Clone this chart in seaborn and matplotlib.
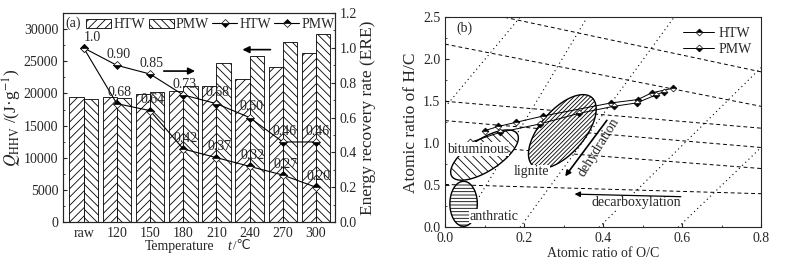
import numpy as np
import pandas as pd
import matplotlib
matplotlib.use('Agg')
import matplotlib.pyplot as plt
from matplotlib.patches import Polygon, Patch
from matplotlib.ticker import FormatStrFormatter
import seaborn as sns

# ---- panel (a) data ----
temps = ['raw', '120', '150', '180', '210', '240', '270', '300']
q_htw = [19450, 19500, 19900, 20450, 21200, 22200, 24100, 26250]
q_pmw = [19150, 19350, 20250, 21200, 24700, 25750, 27950, 29300]
ere_htw = [1.0, 0.90, 0.85, 0.73, 0.68, 0.60, 0.46, 0.46]
ere_pmw = [1.0, 0.68, 0.64, 0.42, 0.37, 0.32, 0.27, 0.20]
ere_htw_lbl = ['1.0', '0.90', '0.85', '0.73', '0.68', '0.60', '0.46', '0.46']
ere_pmw_lbl = ['', '0.68', '0.64', '0.42', '0.37', '0.32', '0.27', '0.20']

# ---- panel (b) data ----
htw_oc = [0.100, 0.135, 0.180, 0.249, 0.420, 0.488, 0.523, 0.577]
htw_hc = [1.15, 1.20, 1.25, 1.325, 1.48, 1.52, 1.60, 1.655]
pmw_oc = [0.063, 0.139, 0.240, 0.338, 0.427, 0.485, 0.534, 0.555]
pmw_hc = [1.01, 1.13, 1.23, 1.355, 1.44, 1.48, 1.575, 1.615]

# guide lines of the van Krevelen diagram (start, end)
dashed_lines = [((0.15, 2.5), (0.8, 1.85)), ((0.0, 2.18), (0.8, 1.44)),
                ((0.0, 1.50), (0.8, 1.18)), ((0.0, 1.27), (0.8, 0.95)),
                ((0.0, 0.99), (0.8, 0.70)), ((0.0, 0.51), (0.8, 0.40))]
dotted_lines = [((0.0, 1.43), (0.19, 2.5)), ((0.04, 0.0), (0.36, 2.5)),
                ((0.19, 0.0), (0.58, 2.5)), ((0.39, 0.0), (0.8, 1.9)),
                ((0.59, 0.0), (0.8, 0.95))]

# coal regions: centre (O/C, H/C), semi axes in px, angle deg, hatch
regions = {'bituminous': ((0.10, 0.86), 39, 16, 33, '\\\\\\\\'),
           'lignite': ((0.297, 1.14), 45, 22, 49, '////////'),
           'anthratic': ((0.047, 0.28), 22.5, 13.7, 90, '-----')}

sns.set_style('ticks')
plt.rcParams['font.family'] = ['Liberation Serif', 'DejaVu Sans', 'Noto Sans CJK SC']
plt.rcParams['mathtext.fontset'] = 'stix'
plt.rcParams['font.size'] = 10
plt.rcParams['hatch.linewidth'] = 0.6

fig = plt.figure(figsize=(7.91, 2.61), dpi=100)
ax = fig.add_axes([0.0797, 0.149, 0.3438, 0.801])
axb = fig.add_axes([0.5626, 0.129, 0.3995, 0.805])

# ---------------- panel (a) ----------------
df = pd.DataFrame({'temp': temps * 2,
                   'q': q_htw + q_pmw,
                   'type': ['HTW'] * len(temps) + ['PMW'] * len(temps)})
sns.barplot(data=df, x='temp', y='q', hue='type', palette=['white', 'white'],
            edgecolor='black', linewidth=0.6, width=0.86, ax=ax, legend=False)
hatches = ['////', '\\\\\\\\']
for cont, h in zip(ax.containers, hatches):
    for p in cont:
        p.set_hatch(h)
ax.set_xlim(-0.62, 7.57)
ax.set_ylim(0, 32500)
ax.set_yticks(range(0, 30001, 5000))
ax.set_yticks(range(0, 32501, 2500), minor=True)
ax.set_xlabel('')
ax.text(0.43, -0.115, 'Temperature', transform=ax.transAxes, ha='center', va='center')
ax.text(0.612, -0.115, 't', transform=ax.transAxes, ha='center', va='center',
        style='italic')
ax.text(0.625, -0.115, '/\u2103', transform=ax.transAxes, ha='left', va='center',
        fontsize=9)
ax.set_ylabel('$Q_{\\mathrm{HHV}}$ /(J\u00b7g$^{-1}$)', labelpad=0, fontsize=12.5)
ax.tick_params(axis='x', length=0)

ax2 = ax.twinx()
xs = np.arange(len(temps))
l1, = ax2.plot(xs, ere_htw, color='black', lw=0.8, marker='D', ms=4,
               fillstyle='bottom', markerfacecolor='black',
               markerfacecoloralt='white', markeredgewidth=0.5)
l2, = ax2.plot(xs, ere_pmw, color='black', lw=0.8, marker='D', ms=4,
               fillstyle='top', markerfacecolor='black',
               markerfacecoloralt='white', markeredgewidth=0.5)
for x, y, t in zip(xs, ere_htw, ere_htw_lbl):
    ax2.annotate(t, (x, y), xytext=(6 if t == '1.0' else 1, 3),
                 textcoords='offset points', ha='center', va='bottom')
for x, y, t in zip(xs, ere_pmw, ere_pmw_lbl):
    if t:
        ax2.annotate(t, (x, y), xytext=(2, 3), textcoords='offset points',
                     ha='center', va='bottom')
ax2.set_ylim(0, 1.2)
ax2.set_yticks(np.arange(0, 1.21, 0.2))
ax2.set_yticks(np.arange(0, 1.21, 0.1), minor=True)
ax2.yaxis.set_major_formatter(FormatStrFormatter('%.1f'))
ax2.set_ylabel('Energy recovery rate (ERE)', labelpad=2, fontsize=12.5)
ax2.annotate('', xy=(4.70, 0.99), xytext=(5.71, 0.99),
             arrowprops=dict(arrowstyle='-|>', color='black', lw=1.2,
                             mutation_scale=10))
ax2.annotate('', xy=(3.44, 0.867), xytext=(2.33, 0.867),
             arrowprops=dict(arrowstyle='-|>', color='black', lw=1.2,
                             mutation_scale=10))

handles = [Patch(facecolor='white', edgecolor='black', hatch='////', lw=0.6),
           Patch(facecolor='white', edgecolor='black', hatch='\\\\\\\\', lw=0.6),
           l1, l2]
ax.legend(handles, ['HTW', 'PMW', 'HTW', 'PMW'], ncol=4, loc='upper left',
          bbox_to_anchor=(0.055, 1.015), frameon=False, handlelength=1.8,
          handletextpad=0.15, columnspacing=0.25, borderaxespad=0.2)
ax.text(0.01, 0.985, '(a)', transform=ax.transAxes, ha='left', va='top')

# ---------------- panel (b) ----------------
axb.set_xlim(0, 0.8)
axb.set_ylim(0, 2.5)
for (x0, y0), (x1, y1) in dashed_lines:
    axb.plot([x0, x1], [y0, y1], ls=(0, (4, 3)), color='black', lw=0.7)
for (x0, y0), (x1, y1) in dotted_lines:
    axb.plot([x0, x1], [y0, y1], ls=(0, (1, 3)), color='black', lw=0.8)

fig.canvas.draw()
sx = axb.bbox.width / 0.8
sy = axb.bbox.height / 2.5
t = np.linspace(0, 2 * np.pi, 200)
for name, ((cx, cy), A, B, ang, h) in regions.items():
    a = np.deg2rad(ang)
    px = A * np.cos(t) * np.cos(a) - B * np.sin(t) * np.sin(a)
    py = A * np.cos(t) * np.sin(a) + B * np.sin(t) * np.cos(a)
    pts = np.column_stack([cx + px / sx, cy + py / sy])
    axb.add_patch(Polygon(pts, closed=True, facecolor='white',
                          edgecolor='black', lw=1.0, hatch=h, zorder=3))

hb, = axb.plot(htw_oc, htw_hc, color='black', lw=0.7, marker='D', ms=3.5,
               fillstyle='top', markerfacecolor='black',
               markerfacecoloralt='white', markeredgewidth=0.5, zorder=4)
pb, = axb.plot(pmw_oc, pmw_hc, color='black', lw=0.7, marker='D', ms=3.5,
               fillstyle='bottom', markerfacecolor='black',
               markerfacecoloralt='white', markeredgewidth=0.5, zorder=4)
axb.legend([hb, pb], ['HTW', 'PMW'], loc='upper right', frameon=False,
           handlelength=2.2, handletextpad=0.3, labelspacing=0.2,
           borderaxespad=0.3)

bbox = dict(facecolor='white', edgecolor='none', pad=0.3)
axb.text(0.004, 0.93, 'bituminous', ha='left', va='center', zorder=5, bbox=bbox)
axb.text(0.175, 0.66, 'lignite', ha='left', va='center', zorder=5, bbox=bbox)
axb.text(0.063, 0.13, 'anthratic', ha='left', va='center', zorder=5, bbox=bbox)
axb.text(0.371, 0.29, 'decarboxylation', ha='left', va='center', zorder=5, bbox=bbox)
axb.text(0.39, 0.95, 'dehydration', ha='center', va='center', rotation=58,
         zorder=5)
axb.annotate('', xy=(0.30, 0.58), xytext=(0.414, 1.30),
             arrowprops=dict(arrowstyle='-|>', color='black', lw=1.2,
                             mutation_scale=8), zorder=5)
axb.annotate('', xy=(0.321, 0.396), xytext=(0.604, 0.364),
             arrowprops=dict(arrowstyle='-|>', color='black', lw=0.9,
                             mutation_scale=8), zorder=5)
axb.text(0.03, 2.45, '(b)', ha='left', va='top')
axb.set_xticks(np.arange(0, 0.81, 0.2))
axb.set_xticks(np.arange(0, 0.81, 0.1), minor=True)
axb.set_yticks(np.arange(0, 2.51, 0.5))
axb.set_yticks(np.arange(0, 2.51, 0.25), minor=True)
axb.xaxis.set_major_formatter(FormatStrFormatter('%.1f'))
axb.yaxis.set_major_formatter(FormatStrFormatter('%.1f'))
axb.set_xlabel('Atomic ratio of O/C', labelpad=1)
axb.set_ylabel('Atomic ratio of H/C', labelpad=3, fontsize=12.5)

for a in (ax, ax2, axb):
    a.tick_params(which='both', direction='in', top=False)
    a.tick_params(which='major', length=3)
    a.tick_params(which='minor', length=1.5)
    for s in a.spines.values():
        s.set_linewidth(0.8)

fig.savefig('out.png', dpi=100)
